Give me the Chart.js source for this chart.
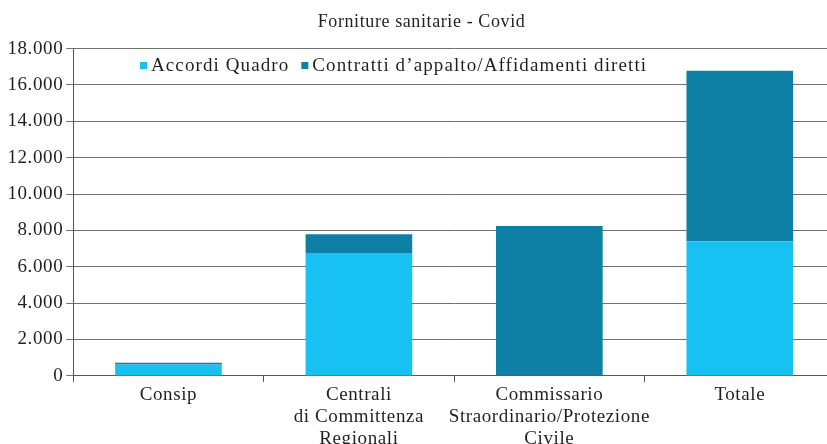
<!DOCTYPE html>
<html>
<head>
<meta charset="utf-8">
<script src="https://cdn.jsdelivr.net/npm/chart.js@4.4.0/dist/chart.umd.min.js"></script>
<style>
    html, body { margin: 0; padding: 0; background: #fff; overflow: hidden; }
    #wrap { position: absolute; left: 0; top: 0; width: 835px; height: 452px; }
</style>
</head>
<body>
<div id="wrap"><canvas id="chart" width="835" height="452"></canvas></div>
<script>
// ---- data ----
const categories = [
    ['Consip'],
    ['Centrali', 'di Committenza', 'Regionali'],
    ['Commissario', 'Straordinario/Protezione', 'Civile'],
    ['Totale']
];
const accordiQuadro = [620, 6760, 0, 7400];
const contrattiAppalto = [100, 1030, 8250, 9380];
const yTicks = [0, 2000, 4000, 6000, 8000, 10000, 12000, 14000, 16000, 18000];

const LIGHT = '#17c1f1';
const DARK = '#0e80a6';
const SERIF = '"Liberation Serif", "DejaVu Serif", serif';

function formatIt(v) {
    return String(v).replace(/\B(?=(\d{3})+(?!\d))/g, '.');
}

// slightly wider text so Times looks closer to the original serif
const spacing = {
    id: 'spacing',
    beforeInit(chart) { chart.ctx.letterSpacing = '0.6px'; },
    beforeDraw(chart) { chart.ctx.letterSpacing = '0.6px'; }
};

// legend drawn inside the plot area, like the original
const insideLegend = {
    id: 'insideLegend',
    afterDraw(chart) {
        const ctx = chart.ctx;
        const items = chart.data.datasets;
        let x = 140;
        const y = 66;
        ctx.save();
        ctx.font = '19px ' + SERIF;
        ctx.letterSpacing = '1.1px';
        ctx.textBaseline = 'middle';
        items.forEach(ds => {
            ctx.fillStyle = ds.backgroundColor;
            ctx.fillRect(x, y - 4, 7, 7);
            x += 11;
            ctx.fillStyle = '#231f20';
            ctx.fillText(ds.label, x, y);
            x += ctx.measureText(ds.label).width + 12;
        });
        ctx.restore();
    }
};

new Chart(document.getElementById('chart').getContext('2d'), {
    type: 'bar',
    data: {
        labels: categories,
        datasets: [
            {
                label: 'Accordi Quadro',
                data: accordiQuadro,
                backgroundColor: LIGHT,
                barPercentage: 0.56,
                categoryPercentage: 1
            },
            {
                label: 'Contratti d\u2019appalto/Affidamenti diretti',
                data: contrattiAppalto,
                backgroundColor: DARK,
                barPercentage: 0.56,
                categoryPercentage: 1
            }
        ]
    },
    options: {
        responsive: false,
        animation: false,
        layout: { padding: { left: 8, right: 0, top: 0, bottom: 0 } },
        plugins: {
            legend: { display: false },
            tooltip: { enabled: false },
            title: {
                display: true,
                text: 'Forniture sanitarie - Covid',
                color: '#231f20',
                font: { family: SERIF, size: 18, weight: 'normal' },
                padding: { top: 11, bottom: 16 }
            }
        },
        scales: {
            x: {
                stacked: true,
                grid: {
                    drawOnChartArea: false,
                    drawTicks: true,
                    tickLength: 6,
                    color: '#555'
                },
                border: { color: '#555', width: 1 },
                ticks: {
                    color: '#231f20',
                    font: { family: SERIF, size: 19, lineHeight: 1.16 },
                    maxRotation: 0,
                    autoSkip: false,
                    padding: 2
                }
            },
            y: {
                stacked: true,
                min: 0,
                max: 18000,
                afterBuildTicks: axis => {
                    axis.ticks = yTicks.map(v => ({ value: v }));
                },
                grid: {
                    color: '#707070',
                    lineWidth: 1,
                    tickLength: 7
                },
                border: { color: '#555', width: 1 },
                ticks: {
                    color: '#231f20',
                    font: { family: SERIF, size: 19 },
                    padding: 3,
                    callback: v => formatIt(v)
                }
            }
        }
    },
    plugins: [spacing, insideLegend]
});
</script>
</body>
</html>
